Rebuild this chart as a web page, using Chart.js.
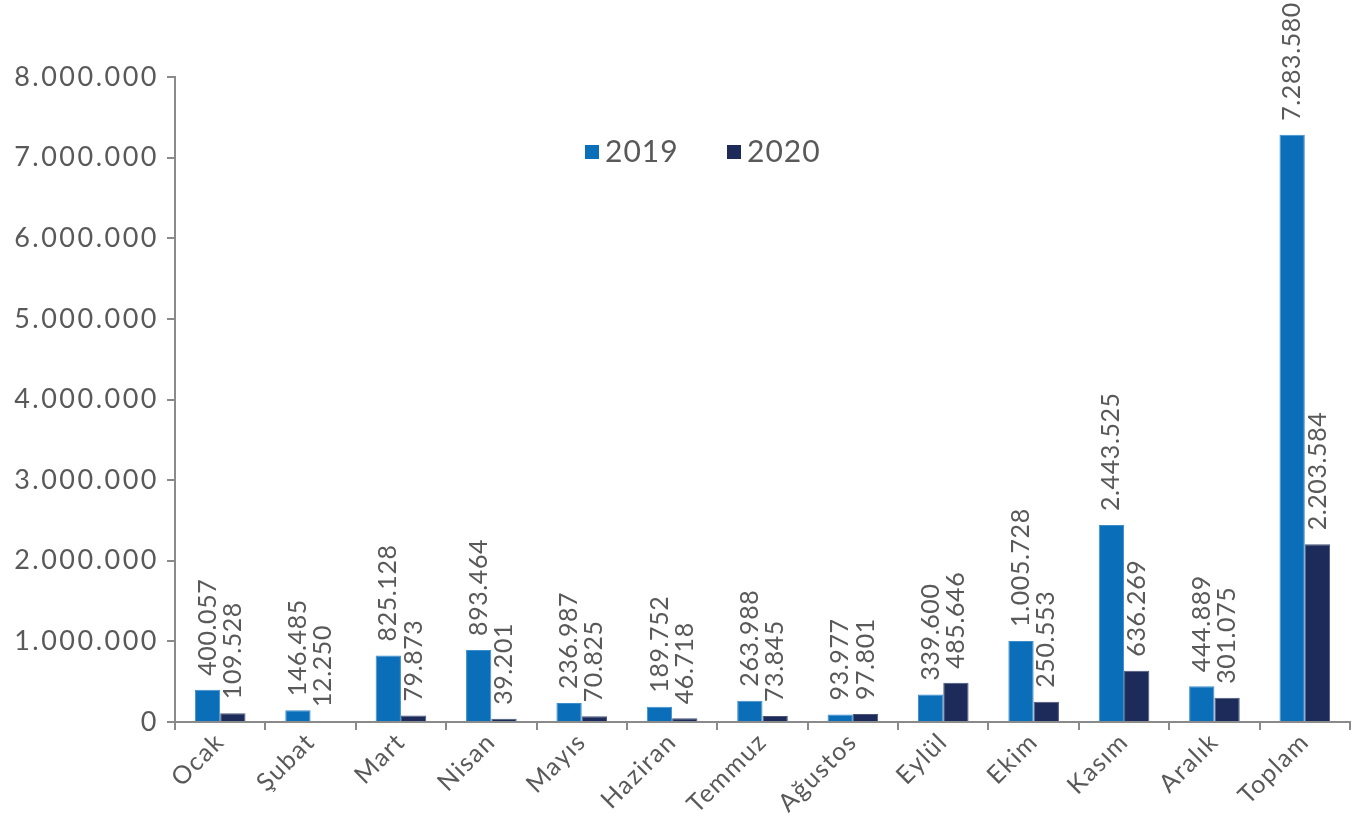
<!DOCTYPE html>
<html>
<head>
<meta charset="utf-8">
<script src="https://cdn.jsdelivr.net/npm/chart.js@4"></script>
<style>
  html, body { margin: 0; padding: 0; background: #fff; }
  #wrap { position: relative; width: 1362px; height: 817px; }
</style>
</head>
<body>
<div id="wrap"><canvas id="chart" width="1362" height="817"></canvas></div>
<script>
const months = ["Ocak", "Şubat", "Mart", "Nisan", "Mayıs", "Haziran", "Temmuz", "Ağustos", "Eylül", "Ekim", "Kasım", "Aralık", "Toplam"];
const values2019 = [400057, 146485, 825128, 893464, 236987, 189752, 263988, 93977, 339600, 1005728, 2443525, 444889, 7283580];
const values2020 = [109528, 12250, 79873, 39201, 70825, 46718, 73845, 97801, 485646, 250553, 636269, 301075, 2203584];
const seriesNames = ["2019", "2020"];

const FONT = "Lato, 'Open Sans', sans-serif";
const textColor = "#595959";
const axisColor = "#8a8a8a";

// thousands separated by dots
function fmt(n) {
  return String(n).replace(/\B(?=(\d{3})+(?!\d))/g, ".");
}

// wider tracking for the y tick labels (drawn first), lighter for the
// month labels which sit on a layer above the bars
const tracking = {
  id: "tracking",
  beforeDraw(chart) { chart.ctx.letterSpacing = "2.5px"; },
  beforeDatasetsDraw(chart) { chart.ctx.letterSpacing = "1.5px"; },
  afterDraw(chart) { chart.ctx.letterSpacing = "0px"; }
};

// vertical value labels above each bar
const barLabels = {
  id: "barLabels",
  afterDatasetsDraw(chart) {
    const ctx = chart.ctx;
    ctx.save();
    ctx.letterSpacing = "0.6px";
    ctx.fillStyle = textColor;
    ctx.font = "25px " + FONT;
    ctx.textAlign = "left";
    ctx.textBaseline = "middle";
    chart.data.datasets.forEach((ds, i) => {
      chart.getDatasetMeta(i).data.forEach((bar, j) => {
        ctx.save();
        ctx.translate(bar.x, bar.y - 14);
        ctx.rotate(-Math.PI / 2);
        ctx.fillText(fmt(ds.data[j]), 0, 0);
        ctx.restore();
      });
    });
    ctx.restore();
  }
};

// legend placed inside the plot, near the top
const innerLegend = {
  id: "innerLegend",
  afterDraw(chart) {
    const ctx = chart.ctx;
    const xs = [585, 727];
    const y = 152;
    ctx.save();
    ctx.letterSpacing = "1px";
    ctx.font = "30px " + FONT;
    ctx.textBaseline = "middle";
    ctx.textAlign = "left";
    chart.data.datasets.forEach((ds, i) => {
      ctx.fillStyle = ds.backgroundColor;
      ctx.fillRect(xs[i], y - 7, 14, 14);
      ctx.fillStyle = textColor;
      ctx.fillText(ds.label, xs[i] + 20, y);
    });
    ctx.restore();
  }
};

new Chart(document.getElementById("chart").getContext("2d"), {
  type: "bar",
  data: {
    labels: months,
    datasets: [
      {
        label: seriesNames[0],
        data: values2019,
        backgroundColor: "#0a6fb8",
        borderColor: "#3b8dcc",
        borderWidth: 1,
        categoryPercentage: 0.56,
        barPercentage: 1.0
      },
      {
        label: seriesNames[1],
        data: values2020,
        backgroundColor: "#1c2b5a",
        borderColor: "#4a5678",
        borderWidth: 1,
        categoryPercentage: 0.56,
        barPercentage: 1.0
      }
    ]
  },
  options: {
    responsive: false,
    animation: false,
    layout: { padding: { top: 77, right: 12, left: 0, bottom: 0 } },
    plugins: {
      legend: { display: false },
      tooltip: { enabled: false }
    },
    scales: {
      x: {
        grid: { drawOnChartArea: false, drawTicks: true, tickLength: 8, color: axisColor, lineWidth: 2, offset: true },
        border: { color: axisColor, width: 2 },
        ticks: {
          z: 1,
          color: textColor,
          font: { family: FONT, size: 25 },
          minRotation: 45,
          maxRotation: 45,
          padding: -3
        },
        afterFit(scale) { scale.height = 95; }
      },
      y: {
        min: 0,
        max: 8000000,
        grid: { drawOnChartArea: false, drawTicks: true, tickLength: 8, color: axisColor, lineWidth: 2 },
        border: { color: axisColor, width: 2 },
        ticks: {
          stepSize: 1000000,
          color: textColor,
          font: { family: FONT, size: 27 },
          padding: 8,
          callback: (v) => fmt(v)
        },
        afterFit(scale) { scale.width = 175; }
      }
    }
  },
  plugins: [tracking, barLabels, innerLegend]
});
</script>
</body>
</html>
